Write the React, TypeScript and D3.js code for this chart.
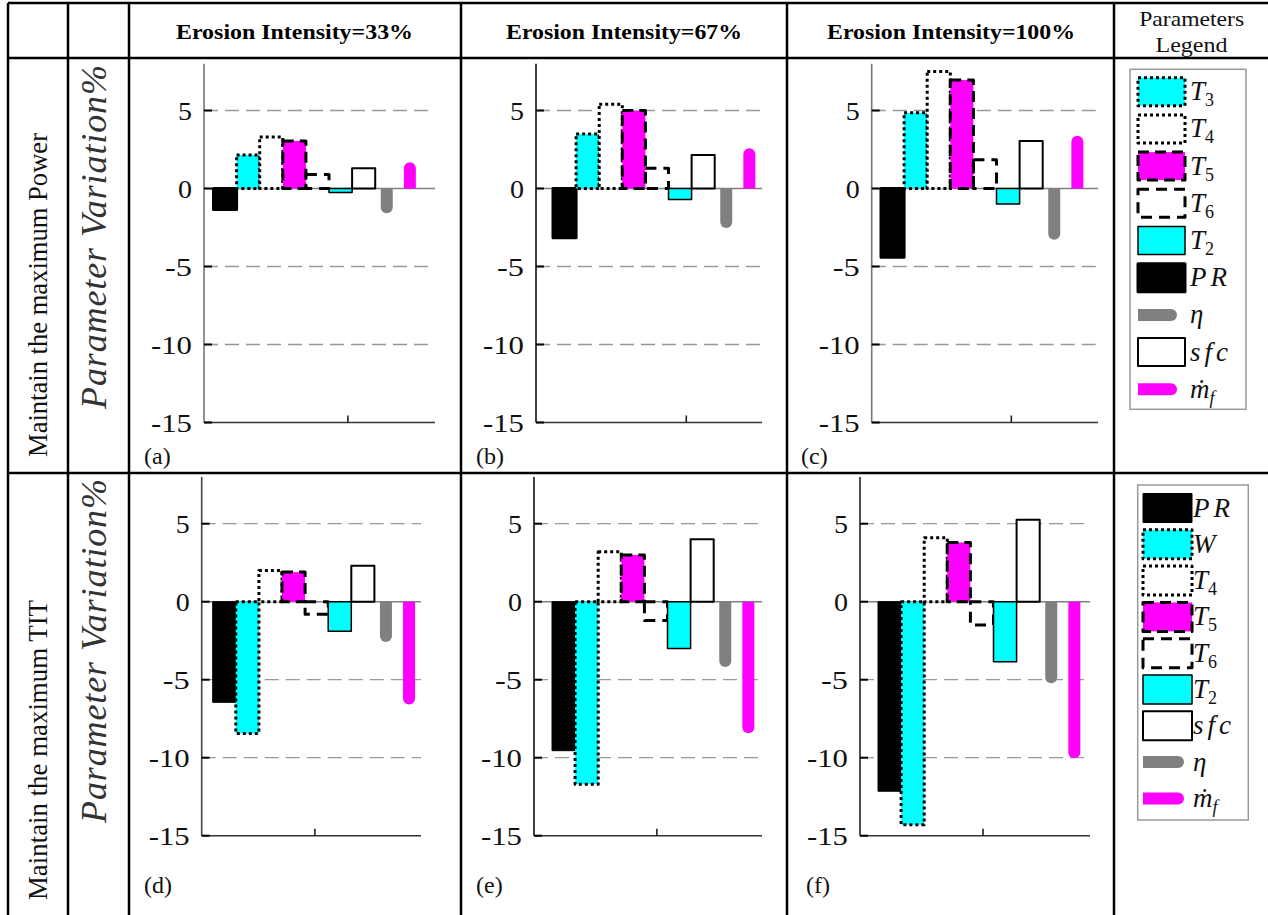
import React from "react";
import * as d3 from "d3";

// ---------------- data ----------------
const columnTitles = ["Erosion Intensity=33%", "Erosion Intensity=67%", "Erosion Intensity=100%"];
const rowTitles = ["Maintain the maximum Power", "Maintain the maximum TIT"];
const yAxisTitle = "Parameter Variation%";
const legendHeader = ["Parameters", "Legend"];
const panelLabels = [["(a)", "(b)", "(c)"], ["(d)", "(e)", "(f)"]];
const yTicks = [5, 0, -5, -10, -15];
const gridValues = [5, -5, -10];
const yDomain = [-15, 8];

// series order in each row (bars left to right)
const powerSeries = ["PR", "T3", "T4", "T5", "T6", "T2", "sfc", "eta", "mf"];
const titSeries = ["PR", "W", "T4", "T5", "T6", "T2", "sfc", "eta", "mf"];
// legend order
const powerLegend = ["T3", "T4", "T5", "T6", "T2", "PR", "eta", "sfc", "mf"];
const titLegend = ["PR", "W", "T4", "T5", "T6", "T2", "sfc", "eta", "mf"];

// Maintain the maximum Power — values for erosion 33%, 67%, 100%
const powerPR = [-1.35, -3.15, -4.4];
const powerT3 = [2.15, 3.5, 4.85];
const powerT4 = [3.3, 5.4, 7.5];
const powerT5 = [3.05, 5.0, 6.95];
const powerT6 = [0.9, 1.3, 1.85];
const powerT2 = [-0.25, -0.7, -1.0];
const powerSfc = [1.3, 2.15, 3.05];
const powerEta = [-1.2, -2.15, -2.9];
const powerMf = [1.3, 2.2, 3.0];

// Maintain the maximum TIT — values for erosion 33%, 67%, 100%
const titPR = [-6.45, -9.55, -12.15];
const titW = [-8.45, -11.7, -14.3];
const titT4 = [2.0, 3.2, 4.1];
const titT5 = [1.9, 3.0, 3.8];
const titT6 = [-0.8, -1.2, -1.5];
const titT2 = [-1.9, -3.0, -3.85];
const titSfc = [2.3, 4.0, 5.25];
const titEta = [-2.2, -3.8, -4.85];
const titMf = [-6.2, -8.05, -9.65];

const powerTable: Record<string, number[]> = {
  PR: powerPR, T3: powerT3, T4: powerT4, T5: powerT5, T6: powerT6,
  T2: powerT2, sfc: powerSfc, eta: powerEta, mf: powerMf,
};
const titTable: Record<string, number[]> = {
  PR: titPR, W: titW, T4: titT4, T5: titT5, T6: titT6,
  T2: titT2, sfc: titSfc, eta: titEta, mf: titMf,
};

// ---------------- styles / layout ----------------
const CYAN = "#00ffff";
const MAGENTA = "#ff00ff";
const GREY = "#808080";

type Sty = { fill: string; stroke: string; sw: number; dash?: string; line?: boolean };
const styles: Record<string, Sty> = {
  PR: { fill: "#000", stroke: "#000", sw: 3 },
  T3: { fill: CYAN, stroke: "#000", sw: 3, dash: "3,3" },
  W: { fill: CYAN, stroke: "#000", sw: 3, dash: "3,3" },
  T4: { fill: "#fff", stroke: "#000", sw: 3, dash: "3,3" },
  T5: { fill: MAGENTA, stroke: "#000", sw: 3, dash: "11,6" },
  T6: { fill: "none", stroke: "#000", sw: 3, dash: "11,7" },
  T2: { fill: CYAN, stroke: "#000", sw: 1.5 },
  sfc: { fill: "#fff", stroke: "#000", sw: 2 },
  eta: { fill: GREY, stroke: "none", sw: 0, line: true },
  mf: { fill: MAGENTA, stroke: "none", sw: 0, line: true },
};

const legendText: Record<string, { main: string; sub?: string; subItalic?: boolean; spacing?: number }> = {
  T3: { main: "T", sub: "3" },
  T4: { main: "T", sub: "4" },
  T5: { main: "T", sub: "5" },
  T6: { main: "T", sub: "6" },
  T2: { main: "T", sub: "2" },
  W: { main: "W" },
  PR: { main: "PR", spacing: 4 },
  eta: { main: "η" },
  sfc: { main: "sfc", spacing: 4 },
  mf: { main: "ṁ", sub: "f", subItalic: true },
};

const FONT = "'Liberation Serif', 'Times New Roman', 'DejaVu Serif', serif";
const SLOT = 23.1;
const LINE_W = 12;
const rowYRange = [[422.5, 63.7], [835.7, 476.9]];
const panelLayout = [
  [
    { x0: 204, x1: 435, start: 213.5, tick: 0.623, axis: "#777", lab: 144 },
    { x0: 536, x1: 762, start: 553, tick: 0.665, axis: "#111", lab: 476 },
    { x0: 871.7, x1: 1098, start: 881, tick: 0.617, axis: "#777", lab: 801 },
  ],
  [
    { x0: 201.7, x1: 421, start: 212.7, tick: 0.516, axis: "#444", lab: 144 },
    { x0: 534, x1: 762, start: 552, tick: 0.539, axis: "#111", lab: 476 },
    { x0: 860, x1: 1090, start: 878, tick: 0.535, axis: "#222", lab: 806 },
  ],
];
const labelBaseline = [464, 893];
const tableX = [8, 68, 129, 461, 787, 1114];
const tableY = [3, 58, 473];
const headerCenters = [294.5, 624, 951];
const headerWidths = [237, 236, 248];

const legendBoxes = [
  { x: 1130, y: 69.3, w: 116, h: 340, swX: 1138, swW: 47, swH: 28, first: 91.7, step: 37.2, textX: 1190 },
  { x: 1137.7, y: 485, w: 110.6, h: 335, swX: 1143, swW: 49, swH: 29, first: 508, step: 36.3, textX: 1193 },
];

function capPath(cx: number, y0: number, y1: number, hw: number) {
  const down = y1 > y0;
  return `M${cx - hw},${y0} L${cx - hw},${y1} A${hw},${hw} 0 0 ${down ? 0 : 1} ${cx + hw},${y1} L${cx + hw},${y0} Z`;
}

function tickLabelWidth(t: number) {
  const s = String(Math.abs(t));
  return s.length * 14 + (t < 0 ? 13 : 0);
}

function Panel({ row, col }: { row: number; col: number }) {
  const lay = panelLayout[row][col];
  const keys = row === 0 ? powerSeries : titSeries;
  const table = row === 0 ? powerTable : titTable;
  const y = d3.scaleLinear().domain(yDomain).range(rowYRange[row]);
  const x = d3.scaleBand<string>().domain(keys).range([lay.start, lay.start + SLOT * keys.length]).padding(0);
  const yBottom = y(yDomain[0]);
  const yTop = y(yDomain[1]);
  const y0 = y(0);
  const tickX = lay.x0 + lay.tick * (lay.x1 - lay.x0);
  return (
    <g>
      {gridValues.map((g) => (
        <line key={g} x1={lay.x0} x2={lay.x1} y1={y(g)} y2={y(g)} stroke="#999" strokeWidth={1.3} strokeDasharray="14,7" />
      ))}
      <line x1={lay.x0} x2={lay.x1} y1={y0} y2={y0} stroke={GREY} strokeWidth={1.6} />
      {keys.map((k) => {
        const v = table[k][col];
        const s = styles[k];
        if (s.line) {
          const cx = (x(k) as number) + x.bandwidth() / 2;
          return <path key={k} d={capPath(cx, y0, y(v), LINE_W / 2)} fill={s.fill} />;
        }
        const top = Math.min(y(v), y0);
        const h = Math.abs(y(v) - y0);
        const sw = k === "PR" && row === 1 ? 1 : s.sw;
        return (
          <rect
            key={k}
            x={x(k)}
            y={top}
            width={x.bandwidth()}
            height={h}
            fill={s.fill}
            stroke={s.stroke}
            strokeWidth={sw}
            strokeDasharray={s.dash}
            strokeLinejoin="round"
          />
        );
      })}
      {/* axes */}
      <line x1={lay.x0} x2={lay.x0} y1={yTop} y2={yBottom} stroke={lay.axis} strokeWidth={1.6} />
      <line x1={lay.x0} x2={lay.x1} y1={yBottom} y2={yBottom} stroke="#333" strokeWidth={1.6} />
      <line x1={tickX} x2={tickX} y1={yBottom} y2={yBottom - 7} stroke="#222" strokeWidth={1.6} />
      {yTicks.map((t) => (
        <g key={t}>
          <line x1={lay.x0} x2={lay.x0 + 8} y1={y(t)} y2={y(t)} stroke="#000" strokeWidth={2} />
          <text
            x={lay.x0 - 12}
            y={y(t) + 9}
            textAnchor="end"
            fontSize={26}
            fontFamily={FONT}
            fill="#111"
            textLength={tickLabelWidth(t)}
            lengthAdjust="spacingAndGlyphs"
          >
            {String(t)}
          </text>
        </g>
      ))}
      <text x={lay.lab} y={labelBaseline[row]} fontSize={24} fontFamily={FONT} fill="#111">
        {panelLabels[row][col]}
      </text>
    </g>
  );
}

function LegendLabel({ k, x, y }: { k: string; x: number; y: number }) {
  const t = legendText[k];
  return (
    <text x={x} y={y} fontSize={27} fontFamily={FONT} fontStyle="italic" fill="#111" letterSpacing={t.spacing || 0}>
      {t.main}
      {t.sub ? (
        <tspan fontSize={18} dy={6} fontStyle={t.subItalic ? "italic" : "normal"}>
          {t.sub}
        </tspan>
      ) : null}
    </text>
  );
}

function Legend({ row }: { row: number }) {
  const b = legendBoxes[row];
  const keys = row === 0 ? powerLegend : titLegend;
  return (
    <g>
      <rect x={b.x} y={b.y} width={b.w} height={b.h} fill="#fff" stroke="#999" strokeWidth={1.5} />
      {keys.map((k, i) => {
        const cy = b.first + i * b.step;
        const s = styles[k];
        let sw: React.ReactNode;
        if (s.line) {
          const x1 = b.swX + b.swW - 14;
          const hw = 6;
          sw = (
            <path
              d={`M${b.swX},${cy - hw} L${x1},${cy - hw} A${hw},${hw} 0 0 1 ${x1},${cy + hw} L${b.swX},${cy + hw} Z`}
              fill={s.fill}
            />
          );
        } else {
          const swW = k === "PR" && row === 1 ? 1 : s.sw;
          sw = (
            <rect
              x={b.swX}
              y={cy - b.swH / 2}
              width={b.swW}
              height={b.swH}
              fill={s.fill}
              stroke={s.stroke}
              strokeWidth={swW}
              strokeDasharray={s.dash}
              strokeLinejoin="round"
            />
          );
        }
        return (
          <g key={k}>
            {sw}
            <LegendLabel k={k} x={b.textX} y={cy + 8.5} />
          </g>
        );
      })}
    </g>
  );
}

export default function App() {
  const W = 1268;
  const H = 915;
  return (
    <svg
      width={W}
      height={H}
      style={{ display: "block", position: "absolute", left: 0, top: 0, background: "#fff" }}
      fontFamily={FONT}
    >
      <rect x={0} y={0} width={W} height={H} fill="#fff" />
      {/* table grid */}
      {tableX.map((tx) => (
        <line key={"v" + tx} x1={tx} x2={tx} y1={tableY[0]} y2={H} stroke="#000" strokeWidth={2.5} />
      ))}
      {tableY.map((ty) => (
        <line key={"h" + ty} x1={tableX[0]} x2={W} y1={ty} y2={ty} stroke="#000" strokeWidth={2.5} />
      ))}
      {/* header */}
      {columnTitles.map((t, i) => (
        <text
          key={t}
          x={headerCenters[i]}
          y={39.3}
          textAnchor="middle"
          fontSize={21.5}
          fontWeight="bold"
          textLength={headerWidths[i]}
          lengthAdjust="spacingAndGlyphs"
          fill="#000"
        >
          {t}
        </text>
      ))}
      <text x={1191.7} y={26} textAnchor="middle" fontSize={21} textLength={105} lengthAdjust="spacingAndGlyphs" fill="#111">
        {legendHeader[0]}
      </text>
      <text x={1191.5} y={52.3} textAnchor="middle" fontSize={21} textLength={72} lengthAdjust="spacingAndGlyphs" fill="#111">
        {legendHeader[1]}
      </text>
      {/* row titles */}
      {rowTitles.map((t, r) => (
        <text
          key={t}
          transform={`translate(47,${r === 0 ? 295 : 750}) rotate(-90)`}
          textAnchor="middle"
          fontSize={26.5}
          textLength={r === 0 ? 324 : 300}
          lengthAdjust="spacingAndGlyphs"
          fill="#111"
        >
          {t}
        </text>
      ))}
      {/* y axis titles */}
      {[237, 651].map((cy, r) => (
        <text
          key={"yt" + r}
          transform={`translate(106,${cy}) rotate(-90)`}
          textAnchor="middle"
          fontSize={36}
          fontStyle="italic"
          textLength={344}
          lengthAdjust="spacing"
          fill="#333"
        >
          {yAxisTitle}
        </text>
      ))}
      {[0, 1].map((r) => [0, 1, 2].map((c) => <Panel key={r + "-" + c} row={r} col={c} />))}
      <Legend row={0} />
      <Legend row={1} />
    </svg>
  );
}
